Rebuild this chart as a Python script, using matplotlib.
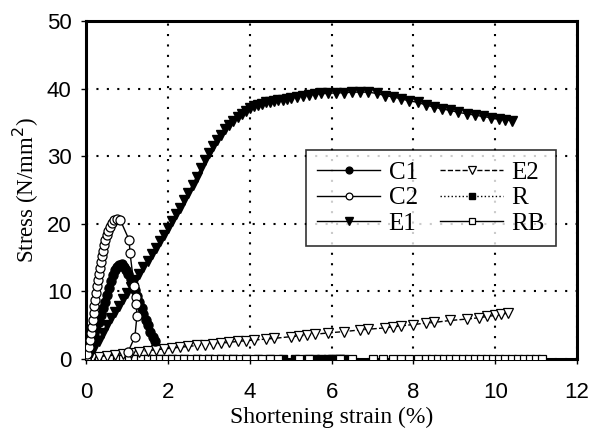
import numpy as np
import matplotlib
matplotlib.use('Agg')
import matplotlib.pyplot as plt

# data (strain in %, stress in N/mm2)
c1_strain = [0, 0.05, 0.1, 0.15, 0.2, 0.25, 0.3, 0.35, 0.4, 0.45, 0.5, 0.55, 0.6, 0.65,
             0.7, 0.75, 0.8, 0.87, 0.93, 0.98, 1.03, 1.09, 1.15, 1.2, 1.25, 1.3, 1.36,
             1.4, 1.45, 1.51, 1.57, 1.63, 1.68]
c1_stress = [0, 0.8, 1.7, 2.6, 3.5, 4.5, 5.5, 6.5, 7.5, 8.5, 9.5, 10.5, 11.5, 12.4,
             13.1, 13.6, 13.9, 14.0, 13.6, 13.1, 12.6, 11.9, 11.1, 10.2, 9.3, 8.5, 7.6,
             6.7, 5.8, 5.0, 4.0, 3.2, 2.7]

c2_strain = [0, 0.03, 0.06, 0.09, 0.11, 0.13, 0.16, 0.18, 0.2, 0.22, 0.25, 0.27, 0.29,
             0.31, 0.33, 0.36, 0.38, 0.41, 0.44, 0.47, 0.5, 0.54, 0.58, 0.63, 0.69, 0.76,
             0.83, 1.05, 1.07, 1.17, 1.22, 1.22, 1.24, 1.19, 1.02]
c2_stress = [0, 0.8, 1.8, 2.8, 3.8, 4.8, 5.8, 6.8, 7.8, 8.8, 9.8, 10.8, 11.7,
             12.6, 13.5, 14.4, 15.2, 16.0, 16.8, 17.6, 18.3, 19.0, 19.6, 20.1, 20.5, 20.7,
             20.6, 17.6, 15.7, 10.8, 9.2, 8.1, 6.4, 3.3, 1.0]

e1_strain = [0, 0.1, 0.2, 0.3, 0.4, 0.5, 0.6, 0.7, 0.8, 0.9, 1.0, 1.1, 1.2, 1.3, 1.4,
             1.5, 1.6, 1.7, 1.8, 1.9, 2.0, 2.1, 2.2, 2.3, 2.4, 2.5, 2.6, 2.7, 2.8, 2.9,
             3.0, 3.1, 3.2, 3.3, 3.4, 3.5, 3.6, 3.7, 3.8, 3.9, 4.0, 4.1, 4.2, 4.3, 4.4,
             4.5, 4.6, 4.7, 4.8, 4.9, 5.0, 5.15, 5.3, 5.45, 5.6, 5.75, 5.9, 6.1, 6.3,
             6.5, 6.7, 6.9, 7.1, 7.3, 7.5, 7.7, 7.9, 8.1, 8.3, 8.5, 8.7, 8.9, 9.1, 9.3,
             9.5, 9.7, 9.9, 10.1, 10.25, 10.4]
e1_stress = [0, 0.7, 1.6, 2.7, 3.9, 5.1, 6.0, 7.0, 7.9, 8.9, 9.8, 10.7, 11.7, 12.6, 13.6,
             14.5, 15.5, 16.4, 17.4, 18.4, 19.4, 20.4, 21.4, 22.4, 23.5, 24.6, 25.8, 27.0,
             28.2, 29.4, 30.5, 31.5, 32.4, 33.2, 34.0, 34.7, 35.3, 35.8, 36.3, 36.7, 37.1,
             37.4, 37.6, 37.8, 38.0, 38.1, 38.2, 38.3, 38.4, 38.5, 38.6, 38.8, 39.0, 39.1,
             39.2, 39.3, 39.3, 39.4, 39.4, 39.5, 39.5, 39.5, 39.3, 39.0, 38.8, 38.5, 38.2,
             38.0, 37.6, 37.3, 37.0, 36.8, 36.5, 36.3, 36.1, 35.9, 35.7, 35.5, 35.4, 35.3]

e2_strain = [0, 0.15, 0.3, 0.5, 0.7, 0.9, 1.1, 1.3, 1.5, 1.7, 1.9, 2.1, 2.3, 2.5, 2.7,
             2.9, 3.1, 3.3, 3.5, 3.7, 3.9, 4.1, 4.4, 4.6, 5.0, 5.2, 5.4, 5.6, 5.9, 6.3,
             6.7, 6.9, 7.3, 7.5, 7.7, 8.0, 8.3, 8.5, 8.9, 9.3, 9.6, 9.8, 10.0, 10.15, 10.3]
e2_stress = [0, 0.2, 0.35, 0.5, 0.65, 0.8, 0.95, 1.1, 1.25, 1.35, 1.5, 1.6, 1.75, 1.85, 2.0,
             2.1, 2.2, 2.35, 2.45, 2.6, 2.7, 2.8, 2.95, 3.05, 3.3, 3.4, 3.55, 3.65, 3.85, 4.05,
             4.3, 4.4, 4.6, 4.75, 4.9, 5.1, 5.3, 5.4, 5.7, 5.9, 6.1, 6.3, 6.45, 6.6, 6.8]

r_strain = [0, 0.3, 0.6, 0.9, 1.2, 1.5, 1.8, 2.1, 2.4, 2.7, 3.0, 3.3, 3.6, 3.9, 4.2,
            4.5, 4.8, 5.1, 5.4, 5.6, 5.75, 5.9, 6.0, 6.1, 6.2, 6.3]
r_stress = [0.0] * len(r_strain)

rb_strain = [0, 0.15, 0.3, 0.45, 0.6, 0.75, 0.9, 1.05, 1.2, 1.35, 1.5, 1.65, 1.8, 1.95,
             2.1, 2.25, 2.4, 2.55, 2.7, 2.85, 3.0, 3.15, 3.3, 3.45, 3.6, 3.75, 3.9, 4.1,
             4.3, 4.5, 4.7, 5.2, 5.45, 6.2, 6.5, 7.0, 7.25, 7.5, 7.7, 7.9, 8.1, 8.3, 8.45,
             8.6, 8.75, 8.9, 9.05, 9.2, 9.35, 9.5, 9.65, 9.8, 9.95, 10.1, 10.25, 10.4,
             10.55, 10.7, 10.85, 11.0, 11.15]
rb_stress = [0.0] * len(rb_strain)

serif = ['Liberation Serif', 'DejaVu Serif']
sans = ['Liberation Sans', 'DejaVu Sans']

fig = plt.figure(figsize=(6.03, 4.33), dpi=100)
ax = fig.add_axes([0.143, 0.171, 0.814, 0.78])

ax.plot(rb_strain, rb_stress, '-', color='black', lw=1, marker='s', ms=5.5,
        mfc='white', mec='black', mew=0.9, label='RB', zorder=3)
ax.plot(r_strain, r_stress, ':', color='black', lw=1, marker='s', ms=5.5,
        mfc='black', mec='black', label='R', zorder=2)
ax.plot(e2_strain, e2_stress, '--', color='black', lw=1, marker='v', ms=7,
        mfc='white', mec='black', mew=0.9, label='E2', zorder=4)
ax.plot(e1_strain, e1_stress, '-', color='black', lw=1, marker='v', ms=7.5,
        mfc='black', mec='black', label='E1', zorder=5)
ax.plot(c2_strain, c2_stress, '-', color='black', lw=1, marker='o', ms=6.5,
        mfc='white', mec='black', mew=0.9, label='C2', zorder=6)
ax.plot(c1_strain, c1_stress, '-', color='black', lw=1, marker='o', ms=6.5,
        mfc='black', mec='black', label='C1', zorder=5)

ax.set_xlim(0, 12)
ax.set_ylim(0, 50)
ax.set_xticks(range(0, 13, 2))
ax.set_yticks(range(0, 51, 10))
ax.grid(True, color='black', linestyle=(0, (1, 4)), lw=1.5)
ax.set_axisbelow(True)
for s in ax.spines.values():
    s.set_linewidth(2.2)
ax.tick_params(direction='out', length=3.5, width=1, labelsize=16)
ax.tick_params(axis='x', pad=13)
ax.tick_params(axis='y', pad=7)
for lab in ax.get_xticklabels() + ax.get_yticklabels():
    lab.set_family(sans)

ax.set_xlabel('Shortening strain (%)', family=serif, fontsize=17, labelpad=3)
ax.set_ylabel('Stress (N/mm$^2$)', family=serif, fontsize=16.5, labelpad=4)

h, l = ax.get_legend_handles_labels()
order = ['C1', 'C2', 'E1', 'E2', 'R', 'RB']
hh = [h[l.index(k)] for k in order]
leg = ax.legend(hh, order, ncol=2, loc='upper left', bbox_to_anchor=(0.448, 0.618),
                prop={'family': serif, 'size': 18}, frameon=True, fancybox=False,
                edgecolor='black', handlelength=2.5, handletextpad=0.35,
                columnspacing=0.9, labelspacing=0.12, borderpad=0.45, borderaxespad=0,
                markerscale=0.75)
leg.get_frame().set_linewidth(1.2)

fig.savefig('out.png', dpi=100)
